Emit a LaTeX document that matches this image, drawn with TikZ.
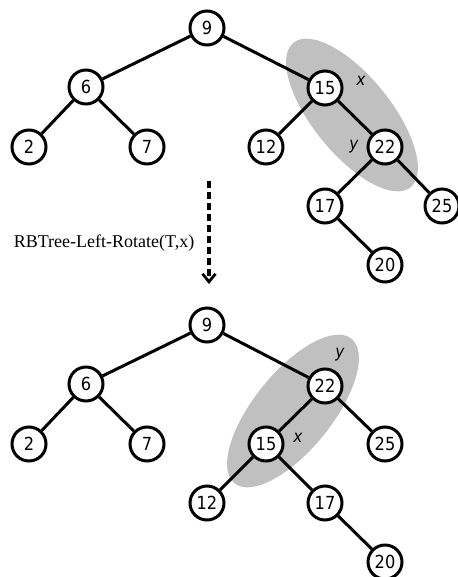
\documentclass[tikz,border=0pt]{standalone}
\usepackage{fontspec}
\setmainfont{Liberation Serif}
\newfontfamily\nodefont{DejaVu Sans Condensed}
\usetikzlibrary{shapes.geometric,arrows.meta}
\definecolor{shade}{RGB}{192,192,192}
\tikzset{
  tnode/.style={circle,draw=black,fill=white,line width=3pt,minimum size=34pt,inner sep=0pt,font=\nodefont\fontsize{18}{18}\selectfont},
  tedge/.style={line width=3pt},
  hilite/.style={ellipse,fill=shade,minimum width=186pt,minimum height=78pt,inner sep=0pt},
  varlabel/.style={font=\nodefont\itshape\fontsize{17}{17}\selectfont,inner sep=0pt},
  rotarrow/.style={line width=3.2pt,dash pattern=on 7pt off 4pt,-{Straight Barb[length=8pt,width=13pt,line width=2.8pt]}}
}
\begin{document}
\begin{tikzpicture}[x=1pt,y=-1pt]
\useasboundingbox (0,0) rectangle (457,577);
% top tree
\node[hilite,rotate=-51] (ea) at (352,115) {};
\node[tnode] (a9) at (207,28) {9};
\node[tnode] (a6) at (86,87) {6};
\node[tnode] (a2) at (29,147) {2};
\node[tnode] (a7) at (147,147) {7};
\node[tnode] (a15) at (325,88) {15};
\node[tnode] (a12) at (266,147) {12};
\node[tnode] (a22) at (385,147) {22};
\node[tnode] (a17) at (325,206) {17};
\node[tnode] (a25) at (442,206) {25};
\node[tnode] (a20) at (385,265) {20};
\draw[tedge] (a9)--(a6) (a9)--(a15) (a6)--(a2) (a6)--(a7) (a15)--(a12) (a15)--(a22) (a22)--(a17) (a22)--(a25) (a17)--(a20);
\node[varlabel] (ax) at (361,81) {x};
\node[varlabel] (ay) at (354,147) {y};
% arrow
\coordinate (arS) at (209,181);
\coordinate (arE) at (209,284);
\draw[rotarrow] (arS)--(arE);
\node[inner sep=0pt,font=\fontsize{18}{18}\selectfont] (lbl) at (104,243) {RBTree-Left-Rotate(T,x)};
% bottom tree
\node[hilite,rotate=51] (eb) at (293,411) {};
\node[tnode] (b9) at (207,325) {9};
\node[tnode] (b6) at (86,384) {6};
\node[tnode] (b2) at (29,444) {2};
\node[tnode] (b7) at (147,444) {7};
\node[tnode] (b22) at (325,386) {22};
\node[tnode] (b15) at (266,444) {15};
\node[tnode] (b25) at (385,444) {25};
\node[tnode] (b12) at (207,503) {12};
\node[tnode] (b17) at (325,503) {17};
\node[tnode] (b20) at (385,562) {20};
\draw[tedge] (b9)--(b6) (b9)--(b22) (b6)--(b2) (b6)--(b7) (b22)--(b15) (b22)--(b25) (b15)--(b12) (b15)--(b17) (b17)--(b20);
\node[varlabel] (by) at (340,355) {y};
\node[varlabel] (bx) at (298,438) {x};
\end{tikzpicture}
\end{document}
